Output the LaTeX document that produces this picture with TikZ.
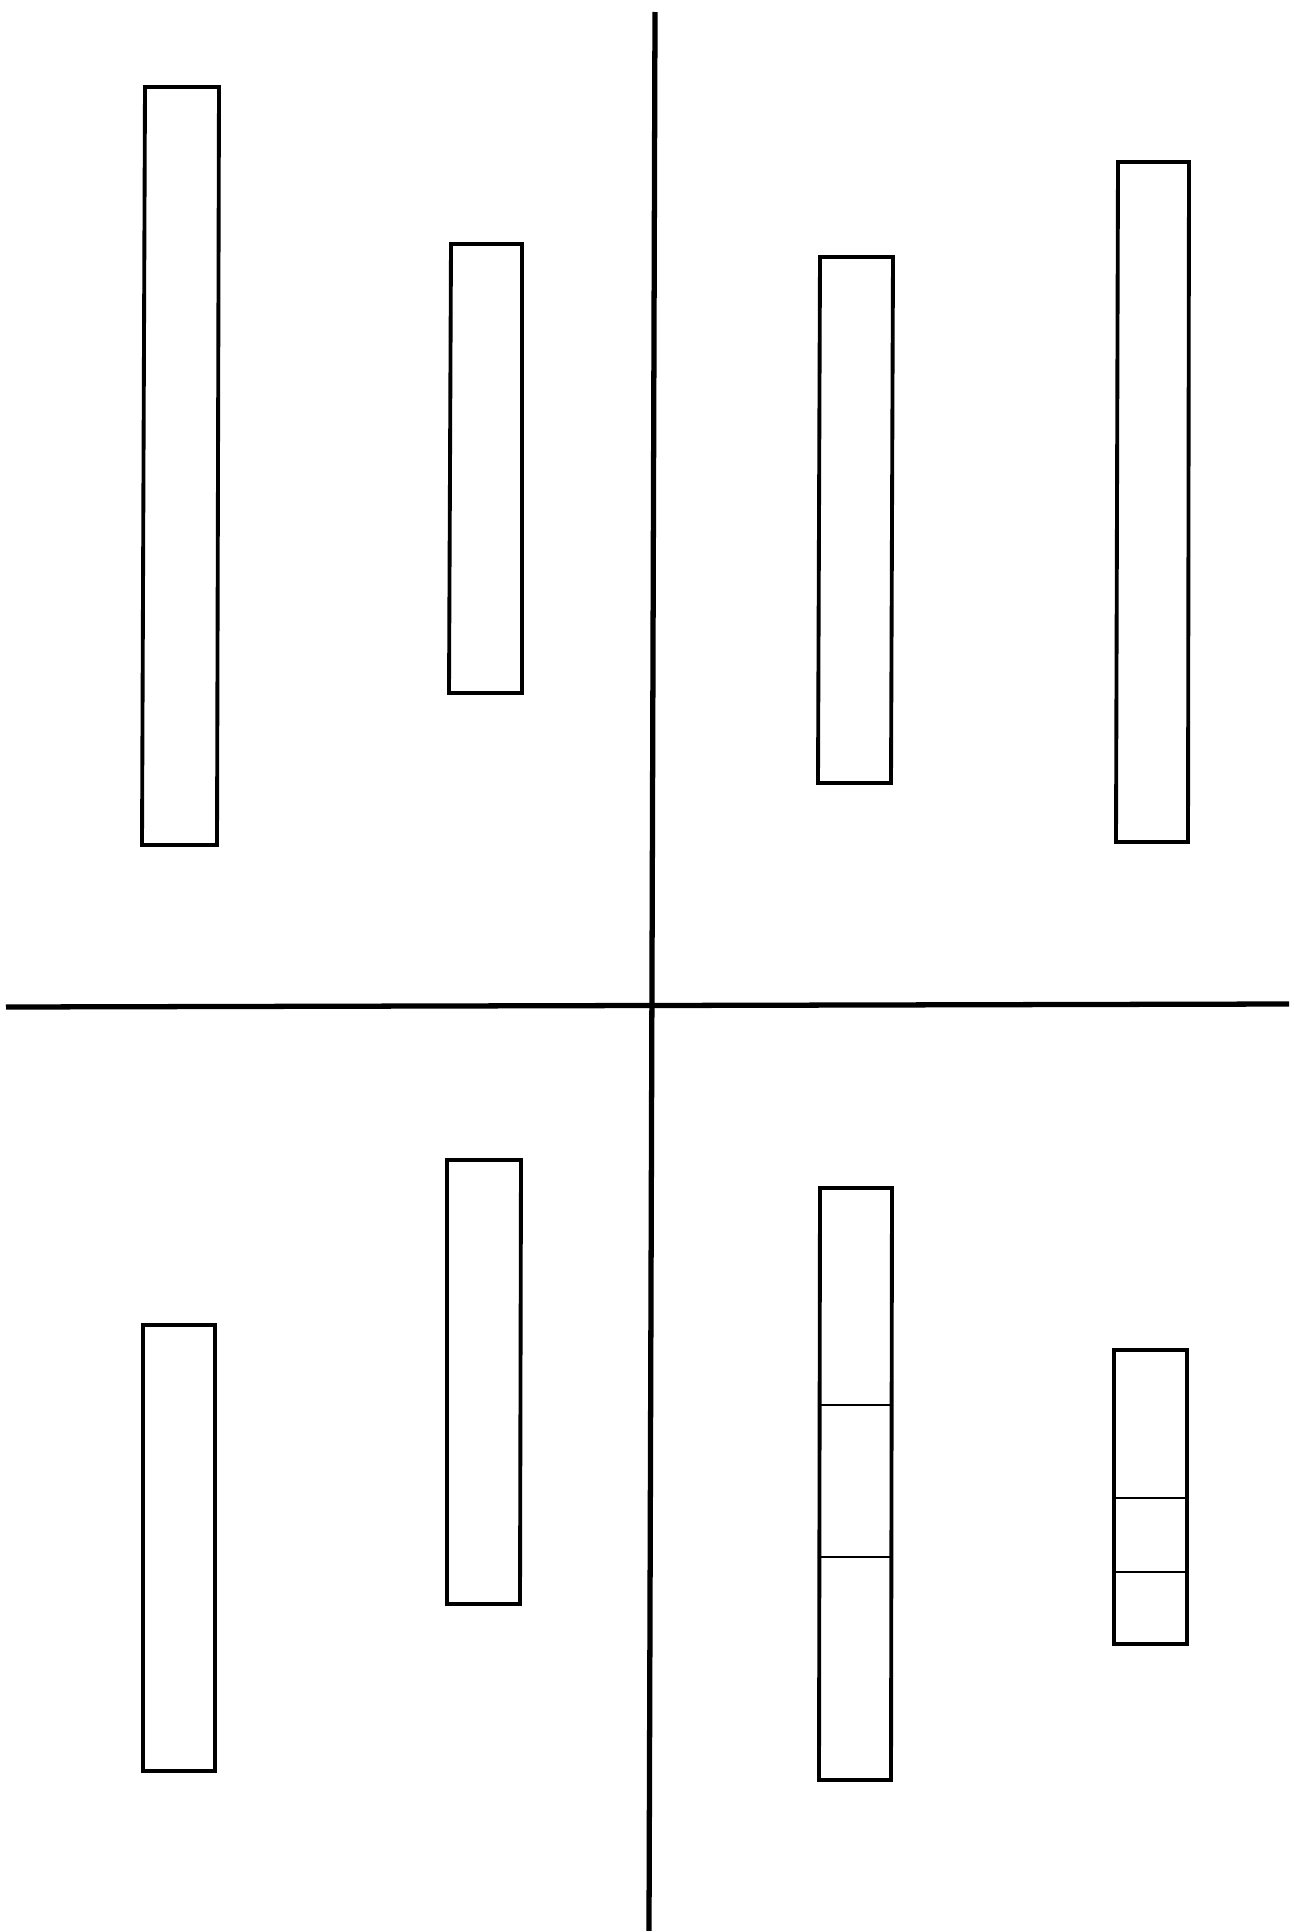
\documentclass[tikz,border=0pt]{standalone}
\begin{document}
\begin{tikzpicture}[x=0.05cm,y=-0.05cm,
  bar/.style={line width=5.5pt,line join=miter},
  divider/.style={line width=4pt},
  axis/.style={line width=7.5pt}]
\useasboundingbox (0,0) rectangle (1289,1931);
% axes
\draw[axis] (655,12) -- (649,1931);
\draw[axis] (6,1007) -- (1289,1004);
% top-left quadrant
\draw[bar] (145,87) -- (219,87) -- (217,845) -- (142,845) -- cycle;
\draw[bar] (451,244) -- (522,244) -- (522,693) -- (449,693) -- cycle;
% top-right quadrant
\draw[bar] (820,257) -- (893,257) -- (891,783) -- (818,783) -- cycle;
\draw[bar] (1118,162) -- (1189,162) -- (1188,842) -- (1116,842) -- cycle;
% bottom-left quadrant
\draw[bar] (143,1325) -- (215,1325) -- (215,1771) -- (143,1771) -- cycle;
\draw[bar] (447,1160) -- (521,1160) -- (520,1604) -- (447,1604) -- cycle;
% bottom-right quadrant
\draw[bar] (820,1188) -- (892,1188) -- (891,1780) -- (819,1780) -- cycle;
\draw[divider] (820,1405) -- (891,1405);
\draw[divider] (820,1557) -- (891,1557);
\draw[bar] (1114,1350) -- (1187,1350) -- (1187,1644) -- (1114,1644) -- cycle;
\draw[divider] (1114,1498) -- (1187,1498);
\draw[divider] (1114,1572) -- (1187,1572);
\end{tikzpicture}
\end{document}
